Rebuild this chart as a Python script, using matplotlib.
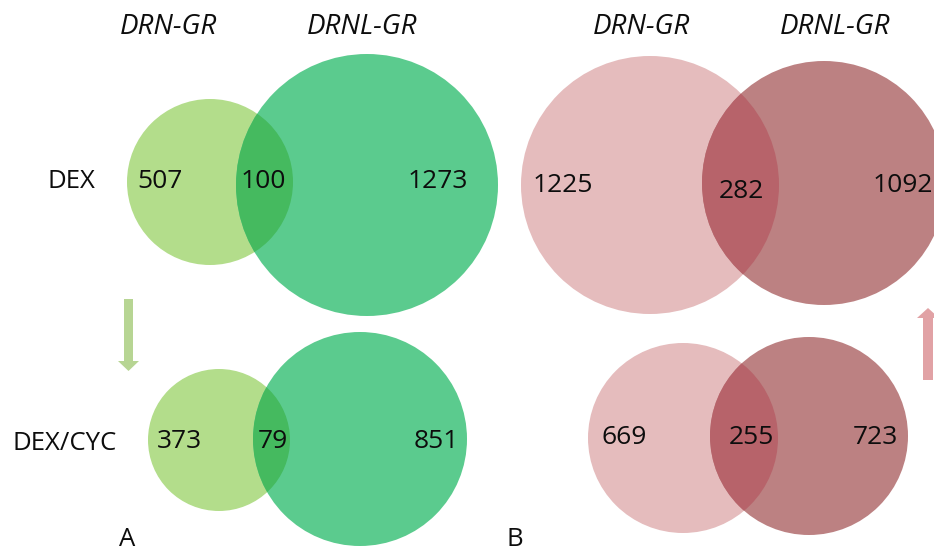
import matplotlib.pyplot as plt
from matplotlib.patches import Circle, FancyArrow

plt.rcParams['font.family'] = ['Open Sans', 'DejaVu Sans']

# data
set_names = ['DRN-GR', 'DRNL-GR']
row_names = ['DEX', 'DEX/CYC']
green_drn_only = [507, 373]
green_both = [100, 79]
green_drnl_only = [1273, 851]
pink_drn_only = [1225, 669]
pink_both = [282, 255]
pink_drnl_only = [1092, 723]

# layout in pixel units (x, y, r) per row
green_c1 = [(210, 182, 83), (219, 440, 71)]
green_c2 = [(367, 185, 131), (360, 439, 107)]
pink_c1 = [(650, 185, 129), (683, 438, 95)]
pink_c2 = [(824, 183, 122), (809, 436, 99)]
green_txt = [[(160, 181), (263, 181), (438, 181)], [(179, 442), (273, 442), (436, 442)]]
pink_txt = [[(563, 186), (741, 191), (903, 186)], [(624, 437), (751, 437), (875, 437)]]

fig = plt.figure(figsize=(9.34, 5.55), dpi=100)
ax = fig.add_axes([0, 0, 1, 1])
ax.set_xlim(0, 934)
ax.set_ylim(555, 0)
ax.axis('off')


def venn(c1, c2, cols, vals, pos):
    p1 = Circle(c1[:2], c1[2], color=cols[0], lw=0)
    p2 = Circle(c2[:2], c2[2], color=cols[1], lw=0)
    ax.add_patch(p1)
    ax.add_patch(p2)
    # overlap: first circle again, clipped to the second
    p3 = Circle(c1[:2], c1[2], color=cols[2], lw=0)
    ax.add_patch(p3)
    p3.set_clip_path(p2)
    for v, (x, y) in zip(vals, pos):
        ax.text(x, y, str(v), ha='center', va='center', fontsize=19, color='#0d0d0d')


green = ['#b3dd8b', '#5bcb8e', '#45ba5f']
pink = ['#e5bcbd', '#bc8182', '#b7636a']
for i in range(2):
    venn(green_c1[i], green_c2[i], green,
         [green_drn_only[i], green_both[i], green_drnl_only[i]], green_txt[i])
    venn(pink_c1[i], pink_c2[i], pink,
         [pink_drn_only[i], pink_both[i], pink_drnl_only[i]], pink_txt[i])

# headers
for x, name in zip([168, 362, 641, 835], set_names * 2):
    ax.text(x, 27, name, ha='center', va='center', fontsize=20, style='italic', color='#0d0d0d')

ax.text(71, 181, row_names[0], ha='center', va='center', fontsize=18.5, color='#0d0d0d')
ax.text(65, 443, row_names[1], ha='center', va='center', fontsize=18.5, color='#0d0d0d')

# arrows
ax.add_patch(FancyArrow(128.5, 299, 0, 72, width=9, head_width=21, head_length=10,
                        length_includes_head=True, color='#b7d593', lw=0))
ax.add_patch(FancyArrow(928, 380, 0, -72, width=10, head_width=22, head_length=10,
                        length_includes_head=True, color='#e1a2a5', lw=0))

ax.text(127, 540, 'A', ha='center', va='center', fontsize=18.5, color='#0d0d0d')
ax.text(515, 540, 'B', ha='center', va='center', fontsize=18.5, color='#0d0d0d')

fig.savefig('out.png', dpi=100)
